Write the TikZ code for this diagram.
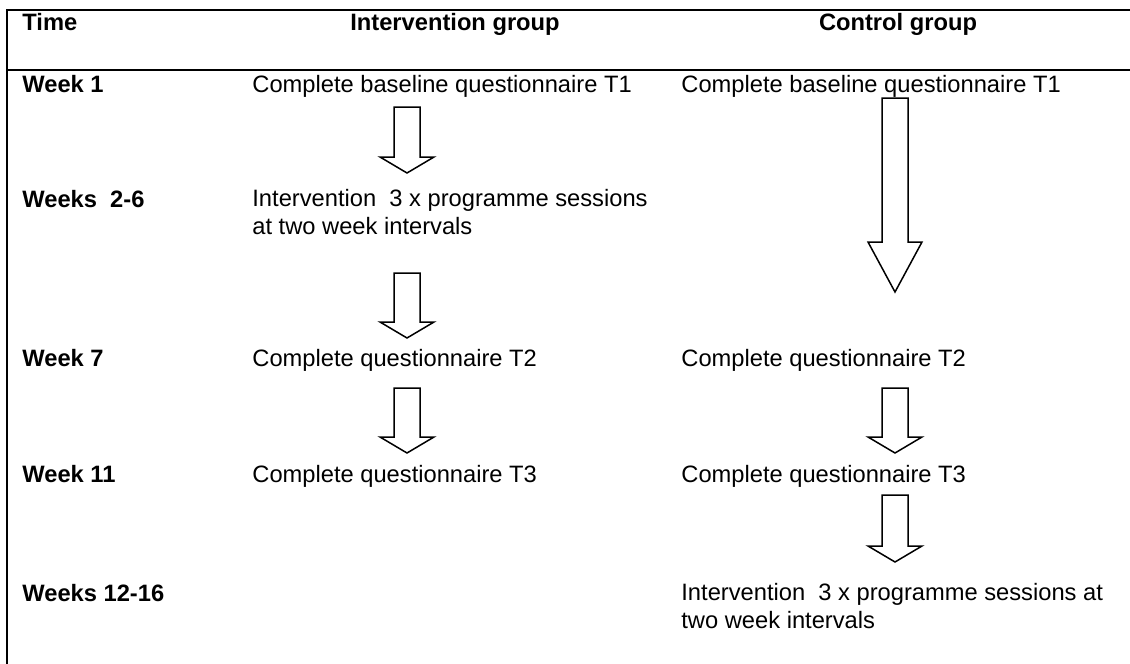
\documentclass[tikz,border=0pt]{standalone}
\usepackage{fontspec}
\setmainfont{Liberation Sans}
\usetikzlibrary{calc}
\newcommand\tfont{\fontsize{11.85pt}{13.6pt}\selectfont}
\tikzset{
  rule/.style={line width=1pt},
  lbl/.style={anchor=base west, inner sep=0pt, font=\tfont\bfseries},
  cell/.style={anchor=base west, inner sep=0pt, align=left, font=\tfont},
  hdr/.style={anchor=base, inner sep=0pt, font=\tfont\bfseries},
  blockarrow/.style={line width=0.75pt, line join=miter},
}
\newcommand\blockarr[3]{%
  \draw[blockarrow] let \p1=(#1), \p2=(#2) in
   (\x1-6.5pt,\y1) -- (\x1+6.5pt,\y1) -- (\x1+6.5pt,\y2+#3) -- (\x1+13.5pt,\y2+#3)
   -- (\x1,\y2) -- (\x1-13.5pt,\y2+#3) -- (\x1-6.5pt,\y2+#3) -- cycle;}
\begin{document}
\begin{tikzpicture}[x=0.5pt,y=-0.5pt]
\useasboundingbox (0,0) rectangle (1130,664);
% table rules
\coordinate (tl) at (7,10);
\coordinate (tr) at (1130,10);
\coordinate (hl) at (7,70);
\coordinate (hr) at (1130,70);
\coordinate (bl) at (7,664);
\draw[rule] (tr) -- (tl) -- (bl);
\draw[rule] (hl) -- (hr);
% headers
\node[lbl] (time) at (22,31) {Time};
\node[hdr] (hint) at (455,31) {Intervention group};
\node[hdr] (hctl) at (898,31) {Control group};
% row labels
\node[lbl] (w1) at (22,92) {Week 1};
\node[lbl] (w26) at (22,207) {Weeks\ \ 2-6};
\node[lbl] (w7) at (22,366) {Week 7};
\node[lbl] (w11) at (22,482) {Week 11};
\node[lbl] (w1216) at (22,601) {Weeks 12-16};
% intervention column (multi-line nodes: base = last line)
\node[cell] (i1) at (252,92) {Complete baseline questionnaire T1};
\node[cell] (i2) at (252,234) {Intervention\ \ 3 x programme sessions\\at two week intervals};
\node[cell] (i3) at (252,366) {Complete questionnaire T2};
\node[cell] (i4) at (252,482) {Complete questionnaire T3};
% control column
\node[cell] (c1) at (681,92) {Complete baseline questionnaire T1};
\node[cell] (c3) at (681,366) {Complete questionnaire T2};
\node[cell] (c4) at (681,482) {Complete questionnaire T3};
\node[cell] (c5) at (681,628) {Intervention\ \ 3 x programme sessions at\\two week intervals};
% arrow end points
\coordinate (a1s) at (407,107); \coordinate (a1e) at (407,173);
\coordinate (a2s) at (407,273); \coordinate (a2e) at (407,338);
\coordinate (a3s) at (407,388); \coordinate (a3e) at (407,453);
\coordinate (b1s) at (895,98);  \coordinate (b1e) at (895,292);
\coordinate (b2s) at (895,388); \coordinate (b2e) at (895,453);
\coordinate (b3s) at (895,495); \coordinate (b3e) at (895,562);
\blockarr{a1s}{a1e}{8pt}
\blockarr{a2s}{a2e}{8pt}
\blockarr{a3s}{a3e}{8pt}
\blockarr{b1s}{b1e}{25pt}
\blockarr{b2s}{b2e}{8pt}
\blockarr{b3s}{b3e}{8pt}
\end{tikzpicture}
\end{document}
